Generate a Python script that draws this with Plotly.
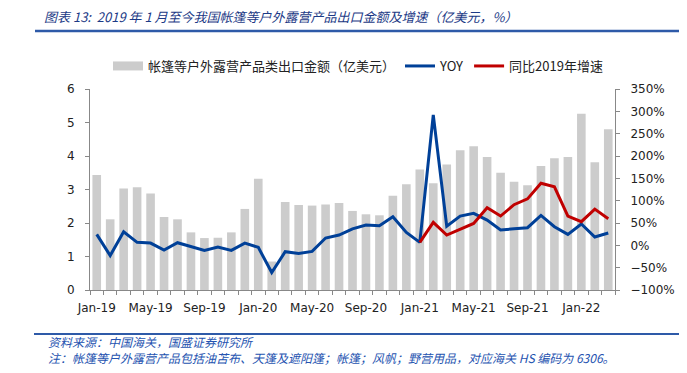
import plotly.graph_objects as go

months = ["Jan-19", "Feb-19", "Mar-19", "Apr-19", "May-19", "Jun-19", "Jul-19", "Aug-19", "Sep-19",
          "Oct-19", "Nov-19", "Dec-19", "Jan-20", "Feb-20", "Mar-20", "Apr-20", "May-20", "Jun-20",
          "Jul-20", "Aug-20", "Sep-20", "Oct-20", "Nov-20", "Dec-20", "Jan-21", "Feb-21", "Mar-21",
          "Apr-21", "May-21", "Jun-21", "Jul-21", "Aug-21", "Sep-21", "Oct-21", "Nov-21", "Dec-21",
          "Jan-22", "Feb-22", "Mar-22"]

export_value = [3.43, 2.11, 3.03, 3.07, 2.88, 2.18, 2.11, 1.72, 1.55, 1.56, 1.72, 2.42, 3.32,
                0.85, 2.63, 2.54, 2.52, 2.55, 2.60, 2.36, 2.26, 2.23, 2.81, 3.16, 3.60, 3.19,
                3.75, 4.17, 4.29, 3.97, 3.50, 3.23, 3.13, 3.70, 3.93, 3.97, 5.26, 3.81, 4.80]

yoy = [24.6, -23, 30.5, 6.7, 5.1, -10.5, 5.9, -2.3, -11.3, -3.8, -11.3, 5.1, -4.5,
       -61, -14.3, -18, -13.5, 16.3, 23, 37, 45.5, 44, 64, 29,
       6.7, 292, 43, 65.6, 71.6, 56.6, 34.3, 37, 39.4, 67, 41.7, 24.6,
       47.7, 18.6, 27.5]

vs2019 = [None] * 24 + [6.7, 51.4, 23, 36.5, 49, 84, 65.6, 91, 104, 139, 131, 65.6, 53, 81, 59.6]

tick_labels = months[::4]

name_bar = "帐篷等户外露营产品类出口金额（亿美元）"
name_yoy = "YOY"
name_vs = "同比2019年增速"

idx = list(range(len(months)))

OFF = 8  # page body margin
W, H = 687 - OFF, 373 - OFF
PL, PR, PT, PB = 90, 615, 89, 290  # plot area in page pixels
L, R, T, B = PL - OFF, W - (PR - OFF), PT - OFF, H - (PB - OFF)
pw, ph = PR - PL, PB - PT


def px_x(x):
    return (x - PL) / pw


def px_y(y):
    return (PB - y) / ph


gray = "#cccccc"
blue = "#004098"
red = "#c00000"
axis_col = "#888888"
title_col = "#1c3a86"
foot_col = "#2553b0"
tick_font = dict(family="DejaVu Sans", size=12, color="#222222")
cjk = "Noto Sans CJK SC"

fig = go.Figure()
fig.add_trace(go.Bar(x=idx, y=export_value, name=name_bar, marker_color=gray,
                     marker_line_width=0, width=0.64, showlegend=False, yaxis="y"))
fig.add_trace(go.Scatter(x=[None], y=[None], mode="lines", name=name_bar,
                         line=dict(color=gray, width=9), yaxis="y"))
fig.add_trace(go.Scatter(x=idx, y=yoy, mode="lines", name=name_yoy,
                         line=dict(color=blue, width=3), yaxis="y2"))
fig.add_trace(go.Scatter(x=idx, y=vs2019, mode="lines", name=name_vs,
                         line=dict(color=red, width=3), yaxis="y2"))

fig.update_layout(
    width=W, height=H,
    margin=dict(l=L, r=R, t=T, b=B, autoexpand=False),
    paper_bgcolor="white", plot_bgcolor="white",
    title=dict(text="<i>图表 13:  2019 年 1 月至今我国帐篷等户外露营产品出口金额及增速（亿美元，%）</i>",
               x=(44 - OFF) / W, xanchor="left", xref="container",
               y=1 - (17 - OFF) / H, yanchor="middle", yref="container",
               font=dict(family=cjk, size=13, color=title_col)),
    legend=dict(orientation="h", x=px_x(358), xanchor="center", y=px_y(66), yanchor="middle",
                font=dict(family=cjk, size=13, color="#222222"),
                itemwidth=30, tracegroupgap=0, bgcolor="rgba(0,0,0,0)"),
    xaxis=dict(range=[-0.5, len(months) - 0.5], tickmode="array",
               tickvals=idx[::4], ticktext=tick_labels, ticks="",
               showline=True, linecolor=axis_col, linewidth=1, showgrid=False, zeroline=False,
               tickfont=tick_font, ticklabelstandoff=7, automargin=False,
               minor=dict(ticks="outside", tick0=-0.5, dtick=1, ticklen=4,
                          tickcolor=axis_col, showgrid=False)),
    yaxis=dict(range=[0, 6], dtick=1, showline=True, linecolor=axis_col, linewidth=1,
               ticks="outside", ticklen=4, tickcolor=axis_col, showgrid=False, zeroline=False,
               tickfont=tick_font, ticklabelstandoff=8, automargin=False),
    yaxis2=dict(range=[-100, 350], dtick=50, overlaying="y", side="right", ticksuffix="%",
                showline=True, linecolor=axis_col, linewidth=1, ticks="outside", ticklen=4,
                tickcolor=axis_col, showgrid=False, zeroline=False,
                tickfont=tick_font, ticklabelstandoff=8, automargin=False),
    showlegend=True,
)

# title underline and footer rule
fig.add_shape(type="line", xref="paper", yref="paper", x0=px_x(35), x1=px_x(690),
              y0=px_y(31), y1=px_y(31), line=dict(color="#2e5aa8", width=2.5))
fig.add_shape(type="line", xref="paper", yref="paper", x0=px_x(34), x1=px_x(690),
              y0=px_y(334), y1=px_y(334), line=dict(color="#2e5aa8", width=2))

footer = ("<i>资料来源：中国海关，国盛证券研究所</i><br>"
          "<i>注：帐篷等户外露营产品包括油苫布、天篷及遮阳篷；帐篷；风帆；野营用品，对应海关 HS 编码为 6306。</i>")
fig.add_annotation(text=footer, xref="paper", yref="paper", align="left",
                   x=px_x(46), y=px_y(349.5), xanchor="left", yanchor="middle", showarrow=False,
                   font=dict(family=cjk, size=12, color=foot_col))

fig.write_html("out.html")
